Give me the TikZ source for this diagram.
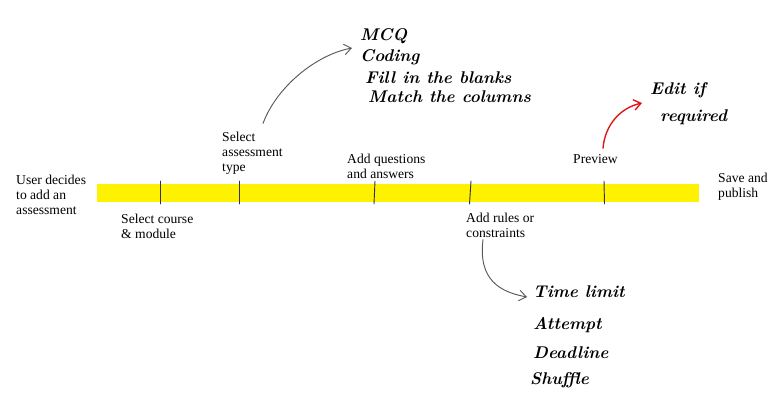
\documentclass[tikz,border=0pt]{standalone}
\usepackage{fontspec}
\usepackage{tikz}
\usetikzlibrary{arrows.meta}
\newfontfamily\printfont{Liberation Serif}

\begin{document}
\begin{tikzpicture}[
  x=0.03cm,y=-0.03cm,
  line cap=round,line join=round,
  step label/.style={anchor=west,inner sep=0pt,align=left,
    font=\printfont\fontsize{11.6}{12.9}\selectfont},
  hand/.style={anchor=west,inner sep=0pt,
    font=\fontsize{14.5}{17}\selectfont\bfseries\itshape},
  bar tick/.style={line width=0.8pt,black!80},
  pencil/.style={line width=0.8pt,black!65,-{Straight Barb[length=6pt,width=9pt]}},
  redpen/.style={line width=1.2pt,red!85!black!90!white,-{Straight Barb[length=6pt,width=9pt]}}
]
  \useasboundingbox (0,0) rectangle (777,416);

  % Yellow timeline bar
  \fill[yellow] (97,184) rectangle (699,202);
  \foreach \x/\d in {160/0,239/0,375/-1,471/-1.5,604/0.5}
    \draw[bar tick] (\x,181) -- (\x+\d,204);

  % Step labels
  \node[step label] (user) at (16,195) {User decides\\to add an\\assessment};
  \node[step label] (course) at (121,226) {Select course\\\& module};
  \node[step label] (seltype) at (222,153) {Select\\assessment\\type};
  \node[step label] (addqa) at (347,166) {Add questions\\and answers};
  \node[step label] (rules) at (466,225) {Add rules or\\constraints};
  \node[step label] (preview) at (573,159) {Preview};
  \node[step label] (save) at (718,187) {Save and\\publish};

  % Handwritten notes: assessment types
  \node[hand] (mcq) at (360,36) {MCQ};
  \node[hand] (coding) at (360,57) {Coding};
  \node[hand] (fill) at (365,78) {Fill in the blanks};
  \node[hand] (match) at (368,97) {Match the columns};

  % Handwritten notes: constraints
  \node[hand] (time) at (533,292) {Time limit};
  \node[hand] (attempt) at (533,325) {Attempt};
  \node[hand] (deadline) at (533,353) {Deadline};
  \node[hand] (shuffle) at (530,380) {Shuffle};

  % Handwritten note: preview
  \node[hand] (editif) at (650,90) {Edit if};
  \node[hand] (required) at (660,117) {required};

  % Pen arrows
  \draw[pencil] ([xshift=1.23cm,yshift=0.24cm]seltype.north west)
    .. controls (276,88) and (315,55) .. ([xshift=-0.24cm,yshift=-0.36cm]mcq.west);
  \draw[pencil] ([xshift=0.51cm,yshift=-0.06cm]rules.south west)
    .. controls (478,280) and (500,292) .. ([xshift=-0.18cm,yshift=-0.15cm]time.west);
  \draw[redpen] ([xshift=0.9cm,yshift=0.18cm]preview.north west)
    .. controls (605,125) and (620,108) .. ([xshift=-0.24cm,yshift=-0.39cm]editif.west);
\end{tikzpicture}
\end{document}
